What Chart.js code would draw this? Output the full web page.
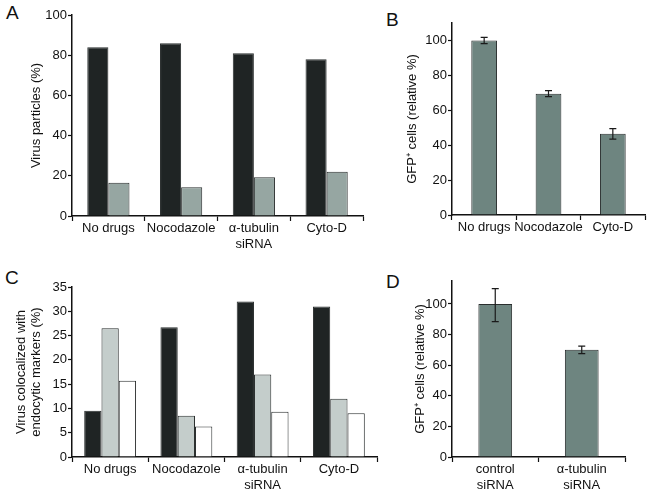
<!DOCTYPE html>
<html>
<head>
<meta charset="utf-8">
<script src="https://cdn.jsdelivr.net/npm/chart.js@4"></script>
<style>
    body { margin: 0; background: #fff; }
    #page { position: relative; width: 650px; height: 494px; overflow: hidden; font-family: "Liberation Sans", Arial, sans-serif; }
    .panel { position: absolute; }
    .letter { position: absolute; font-size: 19px; color: #111; line-height: 1; }
</style>
</head>
<body>
<div id="page">
    <div class="letter" style="left:6px; top:3px;">A</div>
    <div class="letter" style="left:386px; top:10px;">B</div>
    <div class="letter" style="left:5px; top:268px;">C</div>
    <div class="letter" style="left:386px; top:272px;">D</div>
    <div class="panel" style="left:0; top:0; width:370px; height:250px;"><canvas id="chartA"></canvas></div>
    <div class="panel" style="left:370px; top:0; width:280px; height:250px;"><canvas id="chartB"></canvas></div>
    <div class="panel" style="left:0; top:250px; width:385px; height:244px;"><canvas id="chartC"></canvas></div>
    <div class="panel" style="left:370px; top:250px; width:280px; height:244px;"><canvas id="chartD"></canvas></div>
</div>
<script>
// Panel A
const aLabels = ['No drugs', 'Nocodazole', ['\u03b1-tubulin', 'siRNA'], 'Cyto-D'];
const aDark = [84, 86, 81, 78];
const aGrey = [16.5, 14.3, 19.3, 22];

// Panel B
const bLabels = ['No drugs', 'Nocodazole', 'Cyto-D'];
const bValues = [100, 69.5, 46.5];
const bErrors = [1.8, 1.7, 3];

// Panel C
const cLabels = ['No drugs', 'Nocodazole', ['\u03b1-tubulin', 'siRNA'], 'Cyto-D'];
const cDark = [9.5, 26.7, 32, 31];
const cGrey = [26.5, 8.5, 17, 12];
const cWhite = [15.7, 6.3, 9.3, 9];

// Panel D
const dLabels = [['control', 'siRNA'], ['\u03b1-tubulin', 'siRNA']];
const dValues = [100, 70];
const dErrUp = [10, 2.5];
const dErrDown = [11.5, 2.5];

const FONT = '"Liberation Sans", Arial, sans-serif';
const DARK = '#1f2424';
const EDGE = '#2a2e2e';

// draws the whiskers for single-series panels
const errorBarPlugin = {
    id: 'errorBars',
    afterDatasetsDraw(chart, args, opts) {
        if (!opts || !opts.up) return;
        const meta = chart.getDatasetMeta(0);
        const yScale = chart.scales.y;
        const ctx = chart.ctx;
        const values = chart.data.datasets[0].data;
        ctx.save();
        ctx.strokeStyle = '#1a1a1a';
        ctx.lineWidth = 1.2;
        meta.data.forEach((bar, i) => {
            const x = bar.x;
            const top = yScale.getPixelForValue(values[i] + opts.up[i]);
            const bot = yScale.getPixelForValue(values[i] - opts.down[i]);
            ctx.beginPath();
            ctx.moveTo(x, top); ctx.lineTo(x, bot);
            ctx.moveTo(x - 3.5, top); ctx.lineTo(x + 3.5, top);
            ctx.moveTo(x - 3.5, bot); ctx.lineTo(x + 3.5, bot);
            ctx.stroke();
        });
        ctx.restore();
    }
};

function makeOptions(cfg) {
    return {
        responsive: true,
        maintainAspectRatio: false,
        animation: false,
        layout: { padding: cfg.padding },
        plugins: {
            legend: { display: false },
            tooltip: { enabled: false },
            errorBars: cfg.errors || {}
        },
        scales: {
            x: {
                grid: { drawOnChartArea: false, tickLength: 5, color: '#111', tickWidth: 1.2 },
                border: { display: true, color: '#111', width: 1.5 },
                ticks: { font: { family: FONT, size: 13 }, color: '#111', padding: 0, maxRotation: 0, autoSkip: false },
                afterFit: (scale) => { scale.height = cfg.xHeight; }
            },
            y: {
                min: 0,
                max: cfg.max,
                grid: { drawOnChartArea: false, tickLength: 4, color: '#111', tickWidth: 1.2 },
                border: { display: true, color: '#111', width: 1.5 },
                ticks: { stepSize: cfg.step, font: { family: FONT, size: 13 }, color: '#111', padding: 1 },
                title: { display: true, text: cfg.title, font: { family: FONT, size: 13, lineHeight: 1.15 }, color: '#111', padding: { top: 4, bottom: 4 } },
                afterBuildTicks: (axis) => { axis.ticks = axis.ticks.filter(t => t.value <= cfg.lastTick); },
                afterFit: (scale) => { scale.width = cfg.yWidth; }
            }
        }
    };
}

function barSet(data, color, catPct) {
    return {
        data: data,
        backgroundColor: color,
        borderColor: EDGE,
        borderWidth: 1,
        borderSkipped: 'bottom',
        barPercentage: 1,
        categoryPercentage: catPct
    };
}

new Chart(document.getElementById('chartA'), {
    type: 'bar',
    data: {
        labels: aLabels,
        datasets: [barSet(aDark, DARK, 0.58), barSet(aGrey, '#96a6a2', 0.58)]
    },
    options: makeOptions({
        padding: { left: 25, top: 15, right: 7, bottom: 0 },
        xHeight: 34, yWidth: 47, max: 100, step: 20, lastTick: 100,
        title: 'Virus particles (%)'
    })
});

new Chart(document.getElementById('chartB'), {
    type: 'bar',
    data: {
        labels: bLabels,
        datasets: [barSet(bValues, '#6e8580', 0.4)]
    },
    plugins: [errorBarPlugin],
    options: makeOptions({
        padding: { left: 31, top: 23, right: 5, bottom: 0 },
        xHeight: 35, yWidth: 51, max: 110, step: 20, lastTick: 100,
        title: 'GFP\u207a cells (relative %)',
        errors: { up: bErrors, down: bErrors }
    })
});

new Chart(document.getElementById('chartC'), {
    type: 'bar',
    data: {
        labels: cLabels,
        datasets: [barSet(cDark, DARK, 0.68), barSet(cGrey, '#c4cdcb', 0.68), barSet(cWhite, '#ffffff', 0.68)]
    },
    options: makeOptions({
        padding: { left: 10, top: 37, right: 8, bottom: 0 },
        xHeight: 37, yWidth: 62, max: 35, step: 5, lastTick: 35,
        title: ['Virus colocalized with', 'endocytic markers (%)']
    })
});

new Chart(document.getElementById('chartD'), {
    type: 'bar',
    data: {
        labels: dLabels,
        datasets: [barSet(dValues, '#6e8580', 0.39)]
    },
    plugins: [errorBarPlugin],
    options: makeOptions({
        padding: { left: 39, top: 31, right: 25, bottom: 0 },
        xHeight: 37, yWidth: 43, max: 115, step: 20, lastTick: 100,
        title: 'GFP\u207a cells (relative %)',
        errors: { up: dErrUp, down: dErrDown }
    })
});
</script>
</body>
</html>
